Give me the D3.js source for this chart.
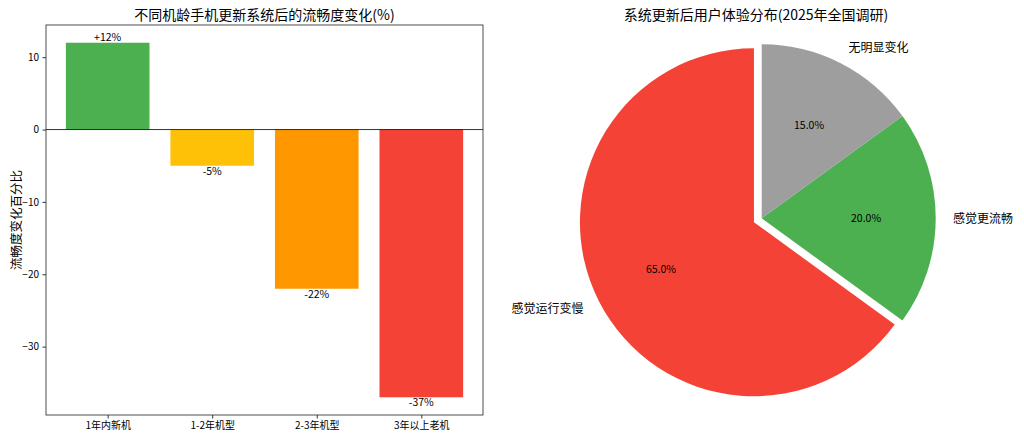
<!DOCTYPE html>
<html><head><meta charset="utf-8">
<script src="https://cdn.jsdelivr.net/npm/d3@7"></script>
<style>
body{margin:0;background:#fff;}
text{font-family:"Noto Sans CJK SC","DejaVu Sans",sans-serif;fill:#000;}
</style></head>
<body><svg id="c" width="1024" height="440"></svg>
<script>
// ---- data ----
const barCategories = ["1年内新机", "1-2年机型", "2-3年机型", "3年以上老机"];
const barValues = [12, -5, -22, -37];
const barColors = ["#4CAF50", "#FFC107", "#FF9800", "#F44336"];
const yTicks = [10, 0, -10, -20, -30];
const barTitle = "不同机龄手机更新系统后的流畅度变化(%)";
const barYLabel = "流畅度变化百分比";

const pieLabels = ["感觉运行变慢", "感觉更流畅", "无明显变化"];
const pieValues = [65, 20, 15];
const pieColors = ["#F44336", "#4CAF50", "#9E9E9E"];
const pieExplode = [0.05, 0, 0];
const pieTitle = "系统更新后用户体验分布(2025年全国调研)";

const svg = d3.select("#c");

// ---- bar chart ----
const ax = {left: 46, right: 483, top: 25, bottom: 415};
const ymin = d3.min(barValues), ymax = d3.max(barValues);
const ypad = (ymax - ymin) * 0.05;
const y = d3.scaleLinear().domain([ymin - ypad, ymax + ypad]).range([ax.bottom, ax.top]);
const x = d3.scaleLinear().domain([-0.59, barCategories.length - 1 + 0.59]).range([ax.left, ax.right]);
const bw = 0.8;
const g = svg.append("g");

g.selectAll("rect.bar").data(barValues).join("rect")
  .attr("class", "bar")
  .attr("x", (d, i) => x(i - bw / 2))
  .attr("width", (d, i) => x(i + bw / 2) - x(i - bw / 2))
  .attr("y", d => y(Math.max(0, d)))
  .attr("height", d => Math.abs(y(d) - y(0)))
  .attr("fill", (d, i) => barColors[i]);

// zero line
g.append("line").attr("x1", ax.left).attr("x2", ax.right)
  .attr("y1", y(0)).attr("y2", y(0)).attr("stroke", "#000").attr("stroke-width", 0.8);

// value labels
g.selectAll("text.val").data(barValues).join("text")
  .attr("class", "val")
  .attr("x", (d, i) => x(i))
  .attr("y", d => d >= 0 ? y(d) - 2 : y(d) + 9)
  .attr("text-anchor", "middle")
  .attr("font-size", 10.5)
  .text(d => (d > 0 ? "+" : "") + d + "%");

// axes
const yAxis = d3.axisLeft(y).tickValues(yTicks).tickSize(3.5).tickPadding(3.5).tickFormat(d3.format("d"));
const yg = g.append("g").attr("transform", `translate(${ax.left},0)`).call(yAxis);
const xAxis = d3.axisBottom(x).tickValues(d3.range(barCategories.length)).tickSize(3.5).tickPadding(3.5)
  .tickFormat(i => barCategories[i]);
const xg = g.append("g").attr("transform", `translate(0,${ax.bottom})`).call(xAxis);
[yg, xg].forEach(a => {
  a.select(".domain").remove();
  a.selectAll("line").attr("stroke", "#000").attr("stroke-width", 0.8);
  a.selectAll("text").attr("font-size", 10).attr("fill", "#000")
    .style("font-family", '"Noto Sans CJK SC","DejaVu Sans",sans-serif');
});
// frame
g.append("rect").attr("x", ax.left).attr("y", ax.top)
  .attr("width", ax.right - ax.left).attr("height", ax.bottom - ax.top)
  .attr("fill", "none").attr("stroke", "#222").attr("stroke-width", 0.8);

g.append("text").attr("x", (ax.left + ax.right) / 2).attr("y", 20)
  .attr("text-anchor", "middle").attr("font-size", 14).text(barTitle);
g.append("text").attr("transform", `translate(21,${(ax.top + ax.bottom) / 2}) rotate(-90)`)
  .attr("text-anchor", "middle").attr("font-size", 12.5).text(barYLabel);

// ---- pie chart ----
const cx = 761.7, cy = 218.3, R = 174;
const pg = svg.append("g");
// matplotlib style: start at 90deg, counterclockwise
const total = d3.sum(pieValues);
let start = 90;
const slices = pieValues.map((v, i) => {
  const sweep = v / total * 360;
  const s = {a0: start, a1: start + sweep, v, i};
  start += sweep;
  return s;
});
const rad = a => a * Math.PI / 180;
// convert math angle (deg, ccw from +x) to d3 arc angle (rad, cw from 12 o'clock)
const toD3 = a => rad(90 - a);
const arc = d3.arc().innerRadius(0).outerRadius(R);

slices.forEach(s => {
  const mid = (s.a0 + s.a1) / 2;
  const ex = pieExplode[s.i] * R;
  const ox = cx + ex * Math.cos(rad(mid)), oy = cy - ex * Math.sin(rad(mid));
  pg.append("path")
    .attr("transform", `translate(${ox},${oy})`)
    .attr("d", arc({startAngle: toD3(s.a1), endAngle: toD3(s.a0)}))
    .attr("fill", pieColors[s.i]);
  const lx = ox + 1.1 * R * Math.cos(rad(mid)), ly = oy - 1.1 * R * Math.sin(rad(mid));
  pg.append("text").attr("x", lx).attr("y", ly).attr("dy", "0.35em")
    .attr("text-anchor", Math.cos(rad(mid)) >= 0 ? "start" : "end")
    .attr("font-size", 12).text(pieLabels[s.i]);
  const px = ox + 0.6 * R * Math.cos(rad(mid)), py = oy - 0.6 * R * Math.sin(rad(mid));
  pg.append("text").attr("x", px).attr("y", py).attr("dy", "0.35em")
    .attr("text-anchor", "middle").attr("font-size", 10.5)
    .text((s.v / total * 100).toFixed(1) + "%");
});

pg.append("text").attr("x", 756).attr("y", 20).attr("text-anchor", "middle")
  .attr("font-size", 14).text(pieTitle);
</script></body></html>
